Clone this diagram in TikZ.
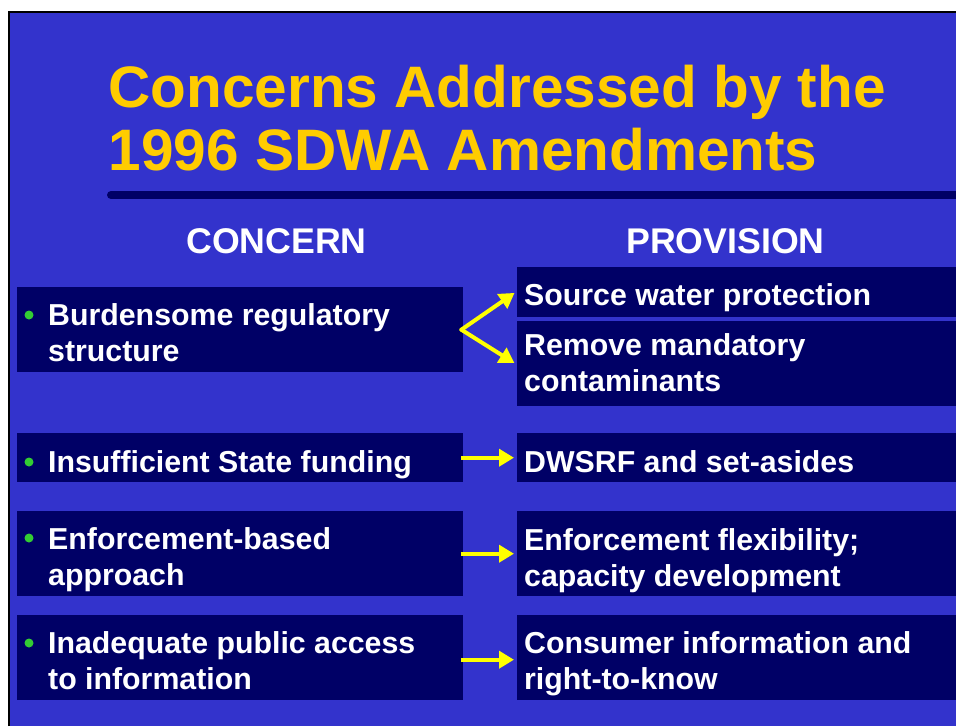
\documentclass[tikz,border=0pt]{standalone}
\usepackage{fontspec}
\setmainfont{Liberation Sans}
\usetikzlibrary{arrows.meta}
\definecolor{bg}{RGB}{51,51,204}
\definecolor{navy}{RGB}{0,0,102}
\definecolor{ttl}{RGB}{255,204,0}
\definecolor{bul}{RGB}{51,204,51}
\definecolor{arr}{RGB}{255,255,0}
\begin{document}
\begin{tikzpicture}[x=1pt,y=-1pt,
  box/.style={fill=navy, draw=none, inner sep=0pt, anchor=north west},
  titletext/.style={text=ttl, inner sep=0pt, anchor=base west, font=\fontsize{58.5}{70}\selectfont\bfseries},
  headtext/.style={text=white, inner sep=0pt, anchor=base, font=\fontsize{35.7}{42}\selectfont\bfseries},
  bodytext/.style={text=white, inner sep=0pt, anchor=base west, font=\fontsize{30.3}{36}\selectfont\bfseries},
  bulletdot/.style={circle, fill=bul, draw=none, inner sep=0pt, minimum size=9pt},
  yarrow/.style={draw=arr, line width=4pt, -{Triangle[length=15pt,width=17pt]}, shorten >=3pt}
]
\useasboundingbox (0,0) rectangle (956,726);
\fill[white] (0,0) rectangle (956,726);
\fill[bg] (10,13) rectangle (956,726);
\draw[black, line width=2pt] (8.5,726) -- (8.5,11.5) -- (956,11.5);

% title
\node[titletext] (t1) at (108.5,107) {Concerns Addressed by the};
\node[titletext] (t2) at (108.5,170) {1996 SDWA Amendments};
\draw[navy, line width=8pt, line cap=round] (111,195) -- (975,195);

% headers
\node[headtext] (h1) at (276.5,253) {CONCERN};
\node[headtext] (h2) at (725.5,253) {PROVISION};

% left boxes
\node[box, minimum width=446pt, minimum height=85pt] (L1) at (17,287) {};
\node[box, minimum width=446pt, minimum height=49pt] (L2) at (17,433) {};
\node[box, minimum width=446pt, minimum height=85pt] (L3) at (17,511) {};
\node[box, minimum width=446pt, minimum height=85pt] (L4) at (17,615) {};

% right boxes
\node[box, minimum width=445pt, minimum height=50pt] (R1) at (517,267) {};
\node[box, minimum width=445pt, minimum height=85pt] (R2) at (517,321) {};
\node[box, minimum width=445pt, minimum height=49pt] (R3) at (517,433) {};
\node[box, minimum width=445pt, minimum height=85pt] (R4) at (517,511) {};
\node[box, minimum width=445pt, minimum height=85pt] (R5) at (517,615) {};

% bullets
\node[bulletdot] (b1) at (29,315) {};
\node[bulletdot] (b2) at (29,462) {};
\node[bulletdot] (b3) at (29,538) {};
\node[bulletdot] (b4) at (29,643) {};

% left texts
\node[bodytext] (l1a) at (48,325) {Burdensome regulatory};
\node[bodytext] (l1b) at (48,361) {structure};
\node[bodytext] (l2a) at (48,472) {Insufficient State funding};
\node[bodytext] (l3a) at (48,549) {Enforcement-based};
\node[bodytext] (l3b) at (48,585) {approach};
\node[bodytext] (l4a) at (48,653) {Inadequate public access};
\node[bodytext] (l4b) at (48,689) {to information};

% right texts
\node[bodytext] (r1a) at (524,305) {Source water protection};
\node[bodytext] (r2a) at (524,355) {Remove mandatory};
\node[bodytext] (r2b) at (524,391) {contaminants};
\node[bodytext] (r3a) at (524,472) {DWSRF and set-asides};
\node[bodytext] (r4a) at (524,550) {Enforcement flexibility;};
\node[bodytext] (r4b) at (524,586) {capacity development};
\node[bodytext] (r5a) at (524,653) {Consumer information and};
\node[bodytext] (r5b) at (524,689) {right-to-know};

% arrows
\coordinate (y0) at ([xshift=-2pt]L1.east);
\draw[yarrow, line cap=round] (y0) -- ([yshift=1pt]R1.west);
\draw[yarrow, line cap=round] (y0) -- ([yshift=-1pt]R2.west);
\draw[yarrow] ([xshift=-2pt]L2.east) -- (R3.west);
\draw[yarrow] ([xshift=-2pt]L3.east) -- (R4.west);
\draw[yarrow] ([xshift=-2pt,yshift=-2pt]L4.east) -- ([yshift=-2pt]R5.west);
\end{tikzpicture}
\end{document}
